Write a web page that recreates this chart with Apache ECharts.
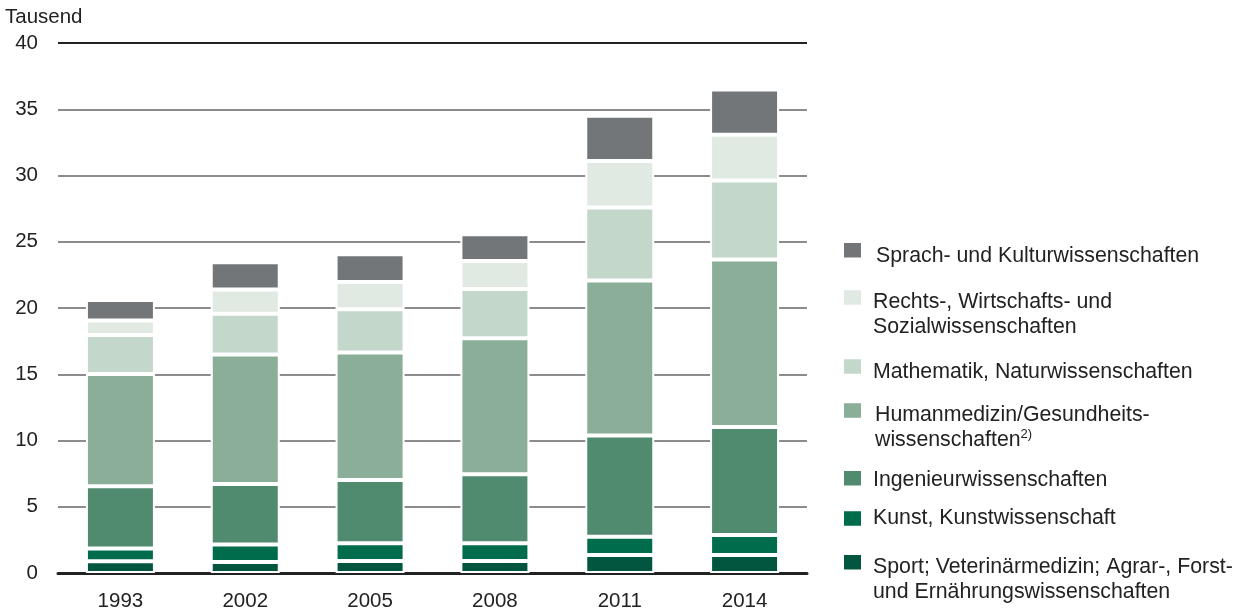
<!DOCTYPE html>
<html><head><meta charset="utf-8">
<script src="https://cdn.jsdelivr.net/npm/echarts@6/dist/echarts.min.js"></script>
<style>html,body{margin:0;padding:0;background:#fff}#c{width:1243px;height:612px}</style>
</head><body><div id="c"></div>
<script>
const years = ['1993','2002','2005','2008','2011','2014'];
const sport  = [0.89, 0.83, 0.90, 0.90, 1.36, 1.36];
const kunst  = [0.96, 1.33, 1.35, 1.35, 1.38, 1.50];
const ingen  = [4.70, 4.55, 4.77, 5.21, 7.64, 8.16];
const human  = [8.47, 9.79, 9.63, 10.25, 11.70, 12.64];
const mathe  = [2.94, 3.06, 3.25, 3.73, 5.50, 5.96];
const rechts = [1.10, 1.84, 2.07, 2.11, 3.51, 3.45];
const sprach = [1.54, 2.06, 2.09, 2.02, 3.42, 3.43];

const names = {
  sport: 'Sport; Veterinärmedizin; Agrar-, Forst-\nund Ernährungswissenschaften',
  kunst: 'Kunst, Kunstwissenschaft',
  ingen: 'Ingenieurwissenschaften',
  human: 'Humanmedizin/Gesundheits-\nwissenschaften{sup|2)}',
  mathe: 'Mathematik, Naturwissenschaften',
  rechts: 'Rechts-, Wirtschafts- und\nSozialwissenschaften',
  sprach: 'Sprach- und Kulturwissenschaften'
};
const colors = {
  sport: '#02563f', kunst: '#006c4b', ingen: '#508a6f', human: '#8aae97',
  mathe: '#c3d7cb', rechts: '#e0eae3', sprach: '#727679'
};
const order = ['sport','kunst','ingen','human','mathe','rechts','sprach'];
const dataMap = {sport, kunst, ingen, human, mathe, rechts, sprach};

const FONT = 'Liberation Sans, Arial, sans-serif';

const series = order.map(k => ({
  name: k, type: 'bar', stack: 'total', data: dataMap[k], barWidth: 69,
  itemStyle: {color: colors[k], borderColor: '#fff', borderWidth: 2},
  emphasis: {disabled: true}
}));

// legend layout: icon centre (px), text offset below icon centre (px), lines, text left padding
const legendIcon = {sprach: 250.3, rechts: 297.5, mathe: 366.5, human: 410.5, ingen: 478.3, kunst: 518.5, sport: 562.3};
const legendOff  = {sprach: 6, rechts: 5, mathe: 6, human: 5, ingen: 2, kunst: 0, sport: 5};
const legendLines = {sprach: 1, rechts: 2, mathe: 1, human: 2, ingen: 1, kunst: 1, sport: 2};
const legendPadL = {sprach: 9, rechts: 6, mathe: 6, human: 8, ingen: 6, kunst: 6, sport: 6};
const LH = 24.5;
const legends = order.map(k => {
  const d = legendOff[k];
  let padTop, padBot, boxH;
  if (legendLines[k] === 2) {
    padTop = 2 * (d + LH / 2); padBot = 0; boxH = padTop + 2 * LH;
  } else {
    padTop = d > 0 ? 2 * d : 0; padBot = d < 0 ? -2 * d : 0; boxH = LH + padTop + padBot;
  }
  return {
    data: [{name: k, icon: 'rect'}], left: 842, top: legendIcon[k] - boxH / 2, orient: 'vertical',
    itemWidth: 19, itemHeight: 16.5, itemGap: 0, padding: 0, selectedMode: false,
    formatter: () => names[k],
    textStyle: {
      fontFamily: FONT, fontSize: 21.3, color: '#222', lineHeight: LH,
      padding: [padTop, 0, padBot, legendPadL[k]],
      rich: {sup: {fontFamily: FONT, fontSize: 13, verticalAlign: 'top', lineHeight: 14, color: '#222', padding: [0, 0, 10, 0]}}
    }
  };
});

const gridColors = ['#222','#8c8c8c','#8c8c8c','#8c8c8c','#8c8c8c','#8c8c8c','#8c8c8c','#8c8c8c','#222'];

const chart = echarts.init(document.getElementById('c'), null, {renderer: 'canvas'});
chart.setOption({
  animation: false,
  textStyle: {fontFamily: FONT},
  title: {text: 'Tausend', left: 5, top: 7, padding: 0,
    textStyle: {fontSize: 20.5, fontWeight: 'normal', color: '#222', fontFamily: FONT}},
  legend: legends,
  grid: {left: 58, right: 436, top: 43, bottom: 38, containLabel: false},
  xAxis: {
    type: 'category', data: years,
    axisLine: {lineStyle: {color: '#222', width: 3}},
    axisTick: {show: false},
    axisLabel: {fontSize: 20.5, color: '#222', margin: 18}
  },
  yAxis: {
    type: 'value', min: 0, max: 40, interval: 5,
    axisLine: {show: false}, axisTick: {show: false},
    axisLabel: {fontSize: 20.5, color: '#222', margin: 20},
    splitLine: {lineStyle: {color: gridColors, width: 2}}
  },
  series
});
</script></body></html>
